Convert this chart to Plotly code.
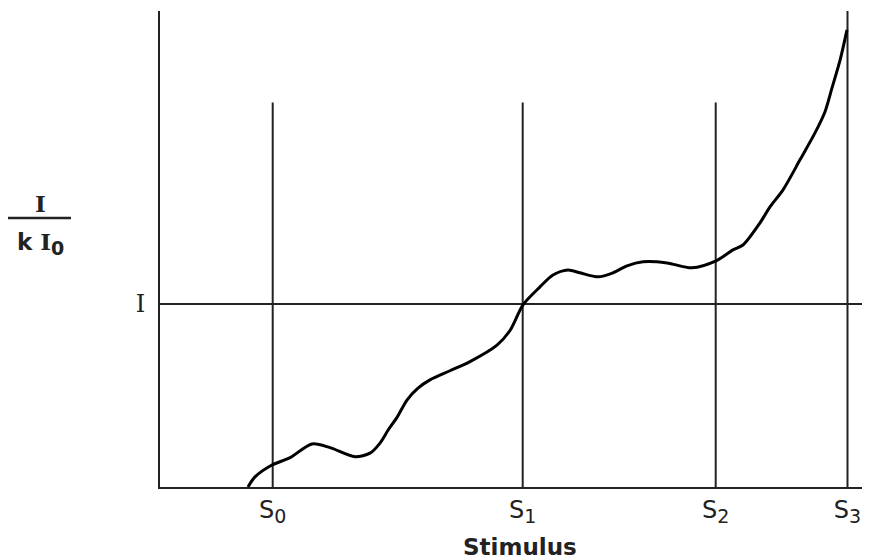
import plotly.graph_objects as go

# Stimulus positions (named ticks) and the intensity reference level
sub = "<sub><span style='font-size:19px'>{}</span></sub>"
stim_names = ["S" + sub.format(i) for i in range(4)]
stim_vals = [1.127, 3.627, 5.557, 6.875]
stim_tops = [2.10, 2.10, 2.10, 2.60]
ref_level = [1.0]
ref_label = ["I"]
x_title = "Stimulus"

# Response curve
curve_x = [0.88, 0.95, 1.12, 1.30, 1.52, 1.70, 1.95, 2.10, 2.20, 2.28, 2.37, 2.47,
           2.58, 2.70, 2.90, 3.10, 3.37, 3.50, 3.63, 3.80, 3.93, 4.08, 4.20, 4.38,
           4.53, 4.67, 4.83, 5.07, 5.32, 5.56, 5.73, 5.83, 6.00, 6.10, 6.23, 6.40,
           6.55, 6.65, 6.72, 6.80, 6.87]
curve_y = [0.00, 0.055, 0.12, 0.16, 0.235, 0.215, 0.165, 0.185, 0.24, 0.31, 0.38,
           0.475, 0.54, 0.585, 0.635, 0.685, 0.775, 0.855, 0.995, 1.093, 1.158,
           1.185, 1.17, 1.148, 1.17, 1.208, 1.23, 1.224, 1.197, 1.235, 1.295,
           1.322, 1.443, 1.530, 1.623, 1.787, 1.934, 2.05, 2.18, 2.33, 2.497]

XMAX = 7.10
YMAX = 2.60

# page body adds an 8px offset; plot area spans px 160..870 x 11..487
OFF = 8
L, T, B = 160 - OFF, 11 - OFF, 72
W, H = 870 - OFF, 559 - OFF
PW, PH = W - L, H - T - B


def px(x):
    return (x - OFF - L) / PW


def py(y):
    return (H - B - (y - OFF)) / PH


fig = go.Figure()
fig.add_trace(go.Scatter(x=curve_x, y=curve_y, mode="lines",
                         line=dict(color="black", width=3, shape="spline", smoothing=0.8),
                         hoverinfo="skip", showlegend=False))

line_style = dict(color="#222222", width=2)
for xv, top in zip(stim_vals, stim_tops):
    fig.add_shape(type="line", x0=xv, x1=xv, y0=0, y1=top, xref="x", yref="y",
                  line=line_style, layer="below")
for yv in ref_level:
    fig.add_shape(type="line", x0=0, x1=XMAX, y0=yv, y1=yv, xref="x", yref="y",
                  line=line_style, layer="below")

# fraction label I / (k I0)
fig.add_shape(type="line", xref="paper", yref="paper",
              x0=px(7), x1=px(71), y0=py(218), y1=py(218),
              line=dict(color="#222222", width=2.5))
fig.add_annotation(xref="paper", yref="paper", x=px(40), y=py(203),
                   xanchor="center", yanchor="middle",
                   text="<b>I</b>", showarrow=False,
                   font=dict(family="DejaVu Serif", size=23, color="#222222"))
fig.add_annotation(xref="paper", yref="paper", x=px(40), y=py(243),
                   xanchor="center", yanchor="middle",
                   text="<b>k <span style='font-family:DejaVu Serif'>I</span>"
                        "<sub><span style='font-size:19px'>0</span></sub></b>",
                   showarrow=False,
                   font=dict(family="DejaVu Sans", size=23, color="#222222"))

# x axis title
fig.add_annotation(xref="paper", yref="paper", x=px(520), y=py(547),
                   xanchor="center", yanchor="middle",
                   text="<b>" + x_title + "</b>", showarrow=False,
                   font=dict(family="DejaVu Sans", size=23, color="#222222"))

fig.update_layout(
    width=W, height=H,
    margin=dict(l=L, r=0, t=T, b=B),
    plot_bgcolor="white", paper_bgcolor="white",
    xaxis=dict(range=[0, XMAX], showgrid=False, zeroline=False,
               showline=True, linecolor="#222222", linewidth=2,
               tickmode="array", tickvals=stim_vals, ticktext=stim_names,
               ticks="", tickfont=dict(family="DejaVu Sans", size=24, color="#222222")),
    yaxis=dict(range=[0, YMAX], showgrid=False, zeroline=False,
               showline=True, linecolor="#222222", linewidth=2,
               tickmode="array", tickvals=ref_level, ticktext=ref_label,
               ticks="", ticklabelstandoff=8,
               tickfont=dict(family="DejaVu Serif", size=24, color="#222222")),
)

fig.write_html("out.html")
